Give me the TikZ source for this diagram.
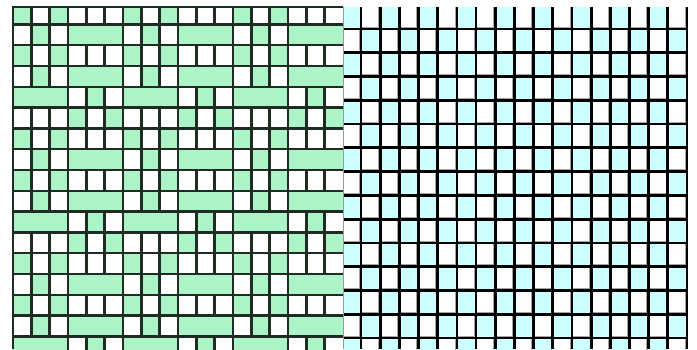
\documentclass[tikz,border=0pt]{standalone}
\definecolor{weftgreen}{RGB}{172,244,200}
\definecolor{cellcyan}{RGB}{204,255,255}
\definecolor{leftink}{RGB}{30,44,34}
\definecolor{shadegray}{RGB}{165,165,165}
\tikzset{
  leftline/.style={draw=leftink, line width=2.4pt},
  gridline/.style={draw=black, line width=2.8pt},
  shadeline/.style={draw=shadegray, line width=1pt}
}
\begin{document}
\begin{tikzpicture}[x=1pt,y=-1pt]
\useasboundingbox (0,0) rectangle (697,349);
\fill[white] (0,0) rectangle (697,349);
% ---------- left half: woven pattern ----------
\begin{scope}
\clip (13,7) rectangle (343,349);
\foreach \r in {0,...,16}{
  \foreach \c in {0,...,17}{
    \pgfmathtruncatemacro{\t}{mod(\r,6)}
    \pgfmathtruncatemacro{\b}{mod(div(\c,3),2)}
    \pgfmathtruncatemacro{\p}{mod(\c,3)}
    \pgfmathtruncatemacro{\g}{(\t==0||\t==2) ? (\b==0 && \p!=1) : ((\t==1||\t==3) ? (\b==1 || \p==1) : ((\t==4) ? (\b==0 || \p==1) : (\b==1 && \p!=1)))}
    \ifnum\g=1
      \fill[weftgreen] (13+\c*18.333,3.5+\r*20.8) rectangle +(18.333,20.8);
    \fi
  }
}
% horizontal lines
\foreach \r in {1,...,16}{
  \draw[leftline] (13,3.5+\r*20.8) -- (343,3.5+\r*20.8);
}
% vertical lines, interrupted inside weft floats
\foreach \r in {0,...,16}{
  \foreach \c in {1,...,17}{
    \pgfmathtruncatemacro{\t}{mod(\r,6)}
    \pgfmathtruncatemacro{\b}{mod(div(\c,3),2)}
    \pgfmathtruncatemacro{\sk}{(mod(\c,3)!=0) && ((((\t==1)||(\t==3)) && (\b==1)) || ((\t==4) && (\b==0)))}
    \ifnum\sk=0
      \draw[leftline] (13+\c*18.333,3.5+\r*20.8) -- +(0,20.8);
    \fi
  }
}
\end{scope}
\draw[leftline] (13,349) -- (13,7) -- (343,7);
\draw[draw=black!40, line width=1pt] (343.5,7) -- (343.5,349);
% ---------- right half: checkerboard ----------
\begin{scope}
\clip (344,7) rectangle (687,349);
\foreach \r in {0,...,14}{
  \foreach \c in {0,...,17}{
    \pgfmathtruncatemacro{\e}{mod(\r+\c,2)}
    \ifnum\e=0
      \fill[cellcyan] (341.82+\c*19.18,5.23+\r*23.77) rectangle +(19.18,23.77);
    \else
      \draw[shadeline] (341.82+\c*19.18,5.23+\r*23.77+22.0) -- +(17.4,0) -- +(17.4,-22.0);
    \fi
  }
}
\foreach \r in {1,...,14}{
  \draw[gridline] (344,5.23+\r*23.77) -- (690,5.23+\r*23.77);
}
\end{scope}
\foreach \c in {1,...,18}{
  \draw[gridline] (341.82+\c*19.18,7) -- (341.82+\c*19.18,349);
}
\end{tikzpicture}
\end{document}
